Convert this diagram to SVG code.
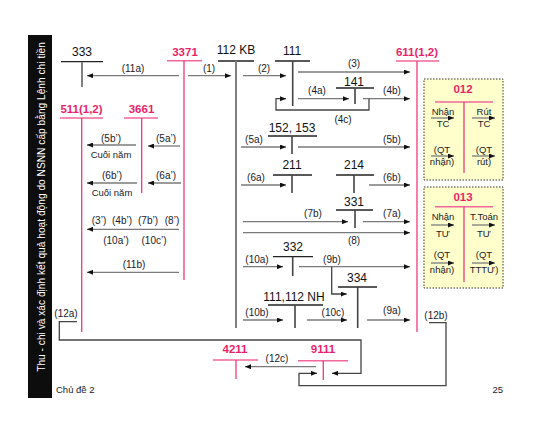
<svg xmlns="http://www.w3.org/2000/svg" width="547" height="433" viewBox="0 0 547 433">
<style>
text{font-family:"Liberation Sans",Arial,sans-serif;fill:#1a1a2a}
.lb{font-size:10px;text-anchor:middle}
.ac{font-size:12px;text-anchor:middle;fill:#111}
.rd{font-size:11.5px;font-weight:bold;text-anchor:middle;fill:#ec1f6b}
.bx{font-size:9.5px;text-anchor:middle}
.sm{font-size:9.5px;text-anchor:middle}
.th{stroke:#222;stroke-width:1.3;fill:none}
.tv{stroke:#444;stroke-width:1.6;fill:none}
.tg{stroke:#808080;stroke-width:2;fill:none}
.rh{stroke:#f2679a;stroke-width:1.6;fill:none}
.rv{stroke:#ee3a7c;stroke-width:1.3;fill:none}
.ar{stroke:#7a7a7a;stroke-width:1.3;fill:none;marker-end:url(#ah)}
.lp{stroke:#444;stroke-width:1.3;fill:none}
.box{fill:#ffffcc;stroke:#333;stroke-width:1;stroke-dasharray:1.5,1.5}
</style>
<defs>
<marker id="ah" markerUnits="userSpaceOnUse" markerWidth="6" markerHeight="5" refX="6" refY="2.5" orient="auto">
<path d="M0,0 L6,2.5 L0,5 z" fill="#111"/>
</marker>
</defs>
<rect width="547" height="433" fill="#fff"/>
<g id="sidebar">
<rect x="28" y="35" width="24" height="363" fill="#0d0d0d"/>
<text transform="translate(44.5,207) rotate(-90)" style="font-size:10.2px;text-anchor:middle;fill:#fff">Thu - chi và xác định kết quả hoạt động do NSNN cấp bằng Lệnh chi tiền</text>
</g>
<g id="acc-333"><text class="ac" x="82" y="56">333</text><line class="th" x1="61" y1="61.7" x2="103" y2="61.7"/><line class="tg" x1="82" y1="62" x2="82" y2="87"/></g>
<g id="acc-3371"><text class="rd" x="185" y="56">3371</text><line class="rh" x1="167" y1="60.7" x2="202" y2="60.7"/><line class="rv" x1="184" y1="61" x2="184" y2="280"/></g>
<g id="acc-112KB"><text class="ac" x="236" y="54">112 KB</text><line class="th" x1="218" y1="61" x2="254" y2="61"/><line class="tg" x1="236" y1="61" x2="236" y2="328"/></g>
<g id="acc-111"><text class="ac" x="292" y="55">111</text><line class="th" x1="275" y1="61" x2="310" y2="61"/><line class="tv" x1="292.7" y1="61" x2="292.7" y2="106"/></g>
<g id="acc-611"><text class="rd" x="417" y="56">611(1,2)</text><line class="rh" x1="396" y1="61" x2="439" y2="61"/><line class="rv" x1="417" y1="61" x2="417" y2="332"/></g>
<g id="acc-141"><text class="ac" x="354" y="86">141</text><line class="th" x1="336" y1="88" x2="374" y2="88"/><line class="tv" x1="355" y1="88" x2="355" y2="104"/></g>
<g id="acc-511"><text class="rd" x="81.5" y="112.7">511(1,2)</text><line class="rh" x1="60" y1="118" x2="103" y2="118"/><line class="rv" x1="81.7" y1="118" x2="81.7" y2="332"/></g>
<g id="acc-3661"><text class="rd" x="141.5" y="112.7">3661</text><line class="rh" x1="124" y1="118" x2="158" y2="118"/><line class="rv" x1="141.7" y1="118" x2="141.7" y2="193"/></g>
<g id="acc-152"><text class="ac" x="292" y="131.7">152, 153</text><line class="th" x1="268" y1="136" x2="317" y2="136"/><line class="tv" x1="292" y1="136" x2="292" y2="154"/></g>
<g id="acc-211"><text class="ac" x="292" y="169">211</text><line class="th" x1="273" y1="175" x2="312" y2="175"/><line class="tv" x1="292" y1="175" x2="292" y2="193"/></g>
<g id="acc-214"><text class="ac" x="354" y="169">214</text><line class="th" x1="336" y1="175" x2="374" y2="175"/><line class="tv" x1="354" y1="175" x2="354" y2="193"/></g>
<g id="acc-331"><text class="ac" x="354" y="206">331</text><line class="th" x1="336" y1="210" x2="373" y2="210"/><line class="tv" x1="355" y1="210" x2="355" y2="228"/></g>
<g id="acc-332"><text class="ac" x="293" y="250.7">332</text><line class="th" x1="273" y1="256.7" x2="313" y2="256.7"/><line class="tv" x1="292.7" y1="257" x2="292.7" y2="276"/></g>
<g id="acc-334"><text class="ac" x="357" y="281.7">334</text><line class="th" x1="338" y1="287" x2="377" y2="287"/><line class="tv" x1="357.7" y1="287" x2="357.7" y2="328"/></g>
<g id="acc-111112NH"><text class="ac" x="294" y="300.7">111,112 NH</text><line class="th" x1="268" y1="305" x2="323" y2="305"/><line class="tv" x1="295" y1="305" x2="295" y2="328"/></g>
<g id="acc-4211"><text class="rd" x="235" y="353">4211</text><line class="rh" x1="213" y1="360" x2="258" y2="360"/><line class="rv" x1="236" y1="360" x2="236" y2="379"/></g>
<g id="acc-9111"><text class="rd" x="323" y="353">9111</text><line class="rh" x1="298" y1="360.7" x2="348" y2="360.7"/><line class="rv" x1="323.3" y1="361" x2="323.3" y2="380"/></g>
<g id="acc-012">
<rect class="box" x="424" y="79" width="79" height="101"/>
<text class="rd" x="463" y="93">012</text>
<line class="rh" x1="435" y1="102" x2="493" y2="102"/><line class="rv" x1="464" y1="102" x2="464" y2="173"/>
<text class="bx" x="443" y="115">Nhận</text><text class="bx" x="443" y="127">TC</text>
<text class="bx" x="484" y="115">Rút</text><text class="bx" x="484" y="127">TC</text>
<text class="bx" x="442" y="152.7">(QT</text><text class="bx" x="442" y="165">nhận)</text>
<text class="bx" x="484" y="152.7">(QT</text><text class="bx" x="484" y="165">rút)</text>
<line class="ar" x1="431" y1="118" x2="454" y2="118"/><line class="ar" x1="472" y1="118" x2="495" y2="118"/>
<line class="ar" x1="431" y1="156" x2="454" y2="156"/><line class="ar" x1="472" y1="156" x2="495" y2="156"/>
</g>
<g id="acc-013">
<rect class="box" x="424" y="187" width="79" height="101"/>
<text class="rd" x="463" y="200.7">013</text>
<line class="rh" x1="435" y1="206.7" x2="493" y2="206.7"/><line class="rv" x1="464" y1="207" x2="464" y2="282"/>
<text class="bx" x="443" y="220">Nhận</text><text class="bx" x="443" y="236.7">TƯ</text>
<text class="bx" x="484" y="220">T.Toán</text><text class="bx" x="484" y="236.7">TƯ</text>
<text class="bx" x="442" y="258">(QT</text><text class="bx" x="442" y="273">nhận)</text>
<text class="bx" x="484" y="258">(QT</text><text class="bx" x="484" y="273">TTTƯ)</text>
<line class="ar" x1="431" y1="225" x2="454" y2="225"/><line class="ar" x1="472" y1="225" x2="495" y2="225"/>
<line class="ar" x1="431" y1="263" x2="454" y2="263"/><line class="ar" x1="472" y1="263" x2="495" y2="263"/>
</g>
<g id="connectors">
<line class="ar" x1="179" y1="75.7" x2="87" y2="75.7"/>
<line class="ar" x1="188" y1="75.7" x2="231" y2="75.7"/>
<line class="ar" x1="243" y1="75.7" x2="286" y2="75.7"/>
<line class="ar" x1="298" y1="72" x2="410" y2="72"/>
<line class="ar" x1="298" y1="98.7" x2="349" y2="98.7"/>
<line class="ar" x1="363" y1="98.7" x2="410" y2="98.7"/>
<path class="lp" style="marker-end:url(#ah)" d="M369,98.7 V110 H276 V98.7 H286"/>
<line class="ar" x1="136" y1="145" x2="87" y2="145"/>
<line class="ar" x1="180" y1="146" x2="148" y2="146"/>
<line class="ar" x1="137" y1="183" x2="87" y2="183"/>
<line class="ar" x1="181" y1="183" x2="148" y2="183"/>
<line class="ar" x1="241" y1="147" x2="286" y2="147"/>
<line class="ar" x1="298" y1="147" x2="410" y2="147"/>
<line class="ar" x1="241" y1="185" x2="286" y2="185"/>
<line class="ar" x1="369" y1="185" x2="410" y2="185"/>
<line class="ar" x1="179" y1="229.3" x2="87" y2="229.3"/>
<line class="ar" x1="179" y1="272.3" x2="87" y2="272.3"/>
<line class="ar" x1="243" y1="221.7" x2="348" y2="221.7"/>
<line class="ar" x1="363" y1="221.7" x2="410" y2="221.7"/>
<line class="ar" x1="243" y1="232.7" x2="410" y2="232.7"/>
<line class="ar" x1="243" y1="266.7" x2="283" y2="266.7"/>
<line class="ar" x1="299" y1="266.7" x2="410" y2="266.7"/>
<path class="lp" style="marker-end:url(#ah)" d="M331.7,266.7 V294 H346.7"/>
<line class="ar" x1="243" y1="320" x2="283" y2="320"/>
<line class="ar" x1="307" y1="320" x2="347" y2="320"/>
<line class="ar" x1="367" y1="320" x2="410" y2="320"/>
<path class="lp" style="marker-end:url(#ah)" d="M77,321.7 H59.3 V340 H361 V373.3 H332"/>
<path class="lp" style="marker-end:url(#ah)" d="M429,322.7 H446 V385.7 H299 V373.3 H317"/>
<line class="ar" x1="316" y1="366.7" x2="245" y2="366.7"/>
</g>
<g id="labels">
<text class="lb" x="133" y="71.5">(11a)</text>
<text class="lb" x="209" y="71.5">(1)</text>
<text class="lb" x="264" y="71.5">(2)</text>
<text class="lb" x="354" y="67">(3)</text>
<text class="lb" x="317" y="94">(4a)</text>
<text class="lb" x="392" y="94">(4b)</text>
<text class="lb" x="343" y="122.5">(4c)</text>
<text class="lb" x="111" y="141.5">(5b’)</text>
<text class="sm" x="111" y="158">Cuối năm</text>
<text class="lb" x="166" y="141.5">(5a’)</text>
<text class="lb" x="112" y="179">(6b’)</text>
<text class="sm" x="112" y="196">Cuối năm</text>
<text class="lb" x="166" y="179">(6a’)</text>
<text class="lb" x="254" y="142.5">(5a)</text>
<text class="lb" x="392" y="142.5">(5b)</text>
<text class="lb" x="256" y="180.5">(6a)</text>
<text class="lb" x="392" y="180.5">(6b)</text>
<text class="lb" x="99" y="224">(3’)</text>
<text class="lb" x="122" y="224">(4b’)</text>
<text class="lb" x="148" y="224">(7b’)</text>
<text class="lb" x="172" y="224">(8’)</text>
<text class="lb" x="116" y="244">(10a’)</text>
<text class="lb" x="154" y="244">(10c’)</text>
<text class="lb" x="134" y="268">(11b)</text>
<text class="lb" x="313" y="216.5">(7b)</text>
<text class="lb" x="392" y="216.5">(7a)</text>
<text class="lb" x="354" y="244">(8)</text>
<text class="lb" x="257" y="262.5">(10a)</text>
<text class="lb" x="332" y="262.5">(9b)</text>
<text class="lb" x="257" y="316">(10b)</text>
<text class="lb" x="333" y="316">(10c)</text>
<text class="lb" x="392" y="314">(9a)</text>
<text class="lb" x="66" y="316.5">(12a)</text>
<text class="lb" x="436" y="319">(12b)</text>
<text class="lb" x="277" y="362">(12c)</text>
</g>
<g id="footer">
<text x="56" y="392.7" style="font-size:9.5px">Chủ đề 2</text>
<text x="503" y="392.7" style="font-size:9.5px;text-anchor:end">25</text>
</g>
</svg>
